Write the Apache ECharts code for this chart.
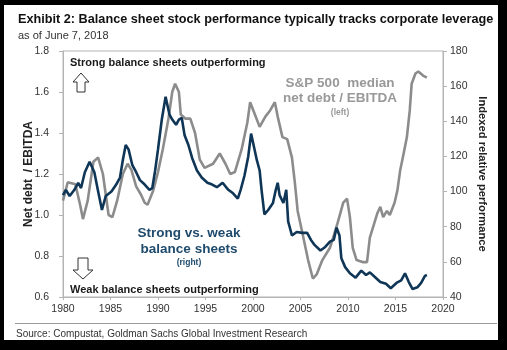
<!DOCTYPE html>
<html>
<head>
<meta charset="utf-8">
<script src="https://cdn.jsdelivr.net/npm/echarts@6/dist/echarts.min.js"></script>
<style>
html,body{margin:0;padding:0;background:#000;}
#frame{position:relative;width:507px;height:350px;background:#000;}
#paper{position:absolute;left:4px;top:5px;width:494px;height:335px;background:#fff;}
#chart{position:absolute;left:0;top:0;width:507px;height:350px;}
</style>
</head>
<body>
<div id="frame">
  <div id="paper"></div>
  <div id="chart"></div>
</div>
<script>
// S&P 500 median net debt / EBITDA (left axis)
var leverageYears = [1980.0, 1980.5, 1981.3, 1981.8, 1982.1, 1982.6, 1983.2, 1983.7, 1984.2, 1984.8,
    1985.2, 1985.7, 1986.3, 1986.8, 1987.2, 1987.7, 1988.2, 1988.6, 1988.9, 1989.5,
    1990.0, 1990.5, 1991.1, 1991.5, 1991.8, 1992.2, 1992.4, 1992.9, 1993.4, 1993.9,
    1994.4, 1994.9, 1995.8, 1996.5, 1997.1, 1997.6, 1998.1, 1998.8, 1999.4, 1999.7,
    2000.2, 2000.7, 2001.3, 2001.8, 2002.3, 2002.6, 2003.1, 2003.6, 2004.1, 2004.4,
    2004.7, 2005.3, 2005.8, 2006.3, 2006.7, 2007.3, 2008.1, 2008.9, 2009.5, 2009.9,
    2010.2, 2010.5, 2010.9, 2011.6, 2012.0, 2012.3, 2013.1, 2013.4, 2013.7, 2014.1,
    2014.4, 2014.9, 2015.2, 2015.5, 2015.9, 2016.2, 2016.5, 2016.7, 2017.1, 2017.4,
    2017.9, 2018.3];
var leverageValues = [1.07, 1.16, 1.15, 1.05, 0.98, 1.07, 1.26, 1.28, 1.20, 1.00,
    0.99, 1.07, 1.20, 1.25, 1.22, 1.14, 1.10, 1.06, 1.05, 1.12,
    1.21, 1.32, 1.47, 1.60, 1.64, 1.60, 1.49, 1.47, 1.47, 1.40,
    1.27, 1.23, 1.25, 1.30, 1.25, 1.20, 1.21, 1.32, 1.45, 1.55,
    1.49, 1.43, 1.48, 1.51, 1.55, 1.48, 1.38, 1.37, 1.28, 1.16,
    1.02, 0.89, 0.78, 0.69, 0.71, 0.78, 0.84, 0.96, 1.06, 1.08,
    0.99, 0.84, 0.78, 0.77, 0.77, 0.89, 1.01, 1.04, 0.99, 1.02,
    1.00, 1.06, 1.12, 1.22, 1.31, 1.38, 1.51, 1.64, 1.69, 1.70,
    1.68, 1.67];

// strong vs. weak balance sheets, indexed (right axis)
var relPerfYears = [1980.0, 1980.3, 1980.7, 1981.2, 1981.6, 1981.9, 1982.3, 1982.8, 1983.3, 1983.7,
    1984.1, 1984.5, 1985.1, 1985.6, 1986.0, 1986.3, 1986.6, 1986.9, 1987.3, 1987.7,
    1988.1, 1988.6, 1989.1, 1989.4, 1989.7, 1990.0, 1990.4, 1990.8, 1991.2, 1991.5,
    1991.9, 1992.2, 1992.5, 1992.8, 1993.2, 1993.6, 1994.1, 1994.6, 1995.2, 1995.7,
    1996.2, 1996.8, 1997.4, 1997.9, 1998.4, 1998.7, 1999.1, 1999.5, 1999.8, 2000.0,
    2000.4, 2000.7, 2000.9, 2001.2, 2001.6, 2002.1, 2002.4, 2002.6, 2002.8, 2003.2,
    2003.5, 2003.7, 2004.1, 2004.6, 2005.2, 2005.7, 2006.1, 2006.5, 2007.1, 2007.6,
    2008.1, 2008.5, 2008.8, 2009.1, 2009.3, 2009.7, 2010.2, 2010.8, 2011.4, 2011.9,
    2012.3, 2012.8, 2013.4, 2014.0, 2014.5, 2015.1, 2015.6, 2016.0, 2016.4, 2016.8,
    2017.3, 2017.7, 2018.1, 2018.3];
var relPerfValues = [98, 101, 97.5, 101, 105, 102, 111, 117, 111, 100,
    89.5, 97.5, 100, 104, 108, 118, 126.5, 124, 115, 111,
    106.5, 104, 101, 102, 112, 124, 141, 154, 144, 141,
    138, 141, 142, 132, 126.5, 119, 112, 108, 105, 104,
    102.5, 105, 101, 99, 96, 101, 109, 120, 133, 132,
    118, 112, 101, 87, 89.5, 93.5, 101, 105, 98, 93.5,
    101, 83, 75, 77, 76.5, 76.5, 72.5, 69.5, 66.5, 68.5,
    71.5, 72.5, 79.5, 75, 62, 57, 53.5, 51, 55, 52.5,
    54, 51.5, 48.5, 47.5, 45, 48, 49.5, 53.5, 48.5, 44.5,
    45.5, 48, 52, 52.5];

var xMin = 1980, xMax = 2020, xStep = 5;
var leftMin = 0.6, leftMax = 1.8, leftStep = 0.2;
var rightMin = 40, rightMax = 180, rightStep = 20;

function pairs(xs, ys) {
    return xs.map(function(x, i) { return [x, ys[i]]; });
}

var font = '"Liberation Sans", Arial, sans-serif';
var navy = '#0f3657';
var grey = '#8c8c8c';

var myChart = echarts.init(document.getElementById('chart'));

var option = {
    backgroundColor: 'transparent',
    animation: false,
    textStyle: { fontFamily: font },
    grid: {
        left: 63, right: 64, top: 51, bottom: 53,
        show: true, borderColor: '#b4b4b4', borderWidth: 1
    },
    xAxis: {
        type: 'value',
        min: xMin, max: xMax, interval: xStep,
        axisLine: { lineStyle: { color: '#b4b4b4' } },
        axisTick: { show: true, length: 3, lineStyle: { color: '#b4b4b4' } },
        axisLabel: { color: '#333', fontSize: 10.5, margin: 7, formatter: function(v) { return String(v); } },
        splitLine: { show: false }
    },
    yAxis: [{
        type: 'value',
        min: leftMin, max: leftMax, interval: leftStep,
        name: 'Net debt  / EBITDA',
        nameLocation: 'middle',
        nameGap: 28,
        nameMoveOverlap: false,
        nameTextStyle: { fontWeight: 'bold', fontSize: 12, color: '#222' },
        axisLine: { show: true, lineStyle: { color: '#b4b4b4' } },
        axisTick: { show: true, length: 4, lineStyle: { color: '#b4b4b4' } },
        axisLabel: { color: '#333', fontSize: 10.5, margin: 14, formatter: function(v) { return v.toFixed(1); } },
        splitLine: { show: false }
    }, {
        type: 'value',
        min: rightMin, max: rightMax, interval: rightStep,
        position: 'right',
        name: 'Indexed relative performance',
        nameLocation: 'middle',
        nameRotate: -90,
        nameGap: 34,
        nameMoveOverlap: false,
        nameTextStyle: { fontWeight: 'bold', fontSize: 11.2, color: '#222' },
        axisLine: { show: true, lineStyle: { color: '#b4b4b4' } },
        axisTick: { show: true, length: 4, lineStyle: { color: '#b4b4b4' } },
        axisLabel: { color: '#333', fontSize: 10.5, margin: 7 },
        splitLine: { show: false }
    }],
    series: [{
        name: 'S&P 500 median net debt / EBITDA',
        type: 'line',
        yAxisIndex: 0,
        showSymbol: false,
        lineStyle: { color: grey, width: 2.6 },
        data: pairs(leverageYears, leverageValues)
    }, {
        name: 'Strong vs. weak balance sheets',
        type: 'line',
        yAxisIndex: 1,
        showSymbol: false,
        lineStyle: { color: navy, width: 2.6 },
        data: pairs(relPerfYears, relPerfValues)
    }],
    graphic: [
        // titre
        { type: 'text', style: { x: 18, y: 19, text: 'Exhibit 2: Balance sheet stock performance typically tracks corporate leverage',
            font: 'bold 12.7px ' + font, fill: '#111', textVerticalAlign: 'middle' } },
        { type: 'text', style: { x: 18, y: 36, text: 'as of June 7, 2018', font: '11px ' + font, fill: '#333', textVerticalAlign: 'middle' } },
        // annotations
        { type: 'text', style: { x: 70, y: 63, text: 'Strong balance sheets outperforming', font: 'bold 11px ' + font, fill: '#1a1a1a', textVerticalAlign: 'middle' } },
        { type: 'text', style: { x: 70, y: 290, text: 'Weak balance sheets outperforming', font: 'bold 11px ' + font, fill: '#1a1a1a', textVerticalAlign: 'middle' } },
        { type: 'polygon', shape: { points: [[81, 73], [89, 82], [85, 82], [85, 92], [77, 92], [77, 82], [73, 82]] },
            style: { fill: '#fff', stroke: '#333', lineWidth: 1 } },
        { type: 'polygon', shape: { points: [[78, 258], [88, 258], [88, 270], [93, 270], [83, 279], [73, 270], [78, 270]] },
            style: { fill: '#fff', stroke: '#333', lineWidth: 1 } },
        { type: 'text', style: { x: 340, y: 83, text: 'S&P 500  median', font: 'bold 13.5px ' + font, fill: '#999', textAlign: 'center', textVerticalAlign: 'middle' } },
        { type: 'text', style: { x: 340, y: 98, text: 'net debt / EBITDA', font: 'bold 13.5px ' + font, fill: '#999', textAlign: 'center', textVerticalAlign: 'middle' } },
        { type: 'text', style: { x: 340, y: 113, text: '(left)', font: 'bold 8.5px ' + font, fill: '#999', textAlign: 'center', textVerticalAlign: 'middle' } },
        { type: 'text', style: { x: 189, y: 233, text: 'Strong vs. weak', font: 'bold 13.5px ' + font, fill: '#1e4a6c', textAlign: 'center', textVerticalAlign: 'middle' } },
        { type: 'text', style: { x: 189, y: 249, text: 'balance sheets', font: 'bold 13.5px ' + font, fill: '#1e4a6c', textAlign: 'center', textVerticalAlign: 'middle' } },
        { type: 'text', style: { x: 189, y: 263, text: '(right)', font: 'bold 8.5px ' + font, fill: '#1e4a6c', textAlign: 'center', textVerticalAlign: 'middle' } },
        // source
        { type: 'line', shape: { x1: 15, y1: 323.5, x2: 497, y2: 323.5 }, style: { stroke: '#9a9a9a', lineWidth: 1 } },
        { type: 'text', style: { x: 16, y: 334, text: 'Source: Compustat, Goldman Sachs Global Investment Research', font: '10px ' + font, fill: '#333', textVerticalAlign: 'middle' } }
    ]
};

myChart.setOption(option);
</script>
</body>
</html>
